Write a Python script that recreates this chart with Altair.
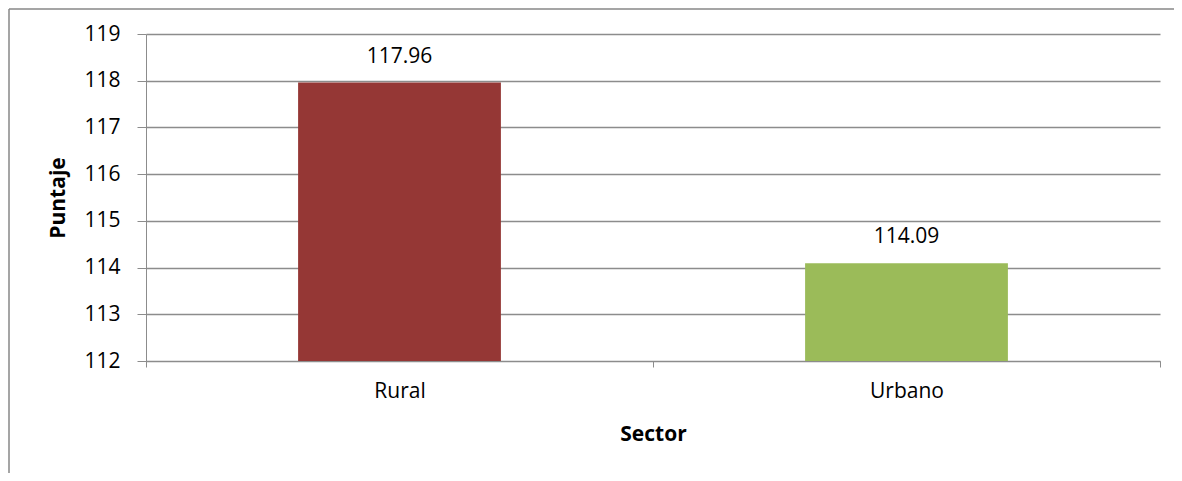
import altair as alt
import pandas as pd

sectors = ["Rural", "Urbano"]
scores = [117.96, 114.09]
labels = ["117.96", "114.09"]
colors = ["#953735", "#9BBB59"]
y_ticks = [112, 113, 114, 115, 116, 117, 118, 119]

df = pd.DataFrame({"Sector": sectors, "Puntaje": scores, "label": labels})

W, H = 1014, 327
PL, PT, PR, PB = 138, 26, 14, 112
FONT = "Open Sans"
GRID = "#8c8c8c"

x = alt.X("Sector:N", sort=sectors,
          scale=alt.Scale(paddingInner=0, paddingOuter=0),
          axis=alt.Axis(title="Sector", labelAngle=0, tickBand="extent",
                        domainColor=GRID, tickColor=GRID, tickSize=6,
                        labelFont=FONT, labelFontSize=21, labelColor="#000000",
                        labelPadding=13,
                        titleFont=FONT, titleFontSize=21, titleFontWeight="bold",
                        titleColor="#000000", titleX=W / 2, titleY=73,
                        titleBaseline="middle"))
y = alt.Y("Puntaje:Q",
          scale=alt.Scale(domain=[y_ticks[0], y_ticks[-1]], zero=False, nice=False, clamp=True),
          axis=alt.Axis(title="Puntaje", values=y_ticks, format="d",
                        grid=True, gridColor=GRID, gridWidth=1.5,
                        domainColor=GRID, tickColor=GRID, tickSize=9,
                        labelFont=FONT, labelFontSize=21, labelColor="#000000",
                        labelPadding=17,
                        titleFont=FONT, titleFontSize=21, titleFontWeight="bold",
                        titleColor="#000000", titleX=-88, titleY=H / 2,
                        titleBaseline="middle"))

bars = alt.Chart(df).mark_bar(width={"band": 0.4}, clip=True).encode(
    x=x, y=y,
    color=alt.Color("Sector:N", scale=alt.Scale(domain=sectors, range=colors), legend=None),
)
text = alt.Chart(df).mark_text(font=FONT, fontSize=21, baseline="alphabetic", dy=-20,
                               color="#000000").encode(
    x=alt.X("Sector:N", sort=sectors), y=alt.Y("Puntaje:Q"), text="label:N")

frame_df = pd.DataFrame({"k": [0]})
left_line = alt.Chart(frame_df).mark_rule(color="#878787", strokeWidth=1.5).encode(
    x=alt.value(-PL + 1), y=alt.value(-PT + 1), y2=alt.value(H + PB))
top_line = alt.Chart(frame_df).mark_rule(color="#878787", strokeWidth=1.5).encode(
    x=alt.value(-PL + 1), x2=alt.value(W + PR), y=alt.value(-PT + 1))

chart = alt.layer(bars, text, left_line, top_line).properties(
    width=W, height=H,
    autosize=alt.AutoSizeParams(type="none"),
    padding={"left": PL, "top": PT, "right": PR, "bottom": PB},
).configure_view(stroke=None).configure_axis(labelOverlap=False)

chart.save("out.html", embed_options={"renderer": "svg", "actions": False})
